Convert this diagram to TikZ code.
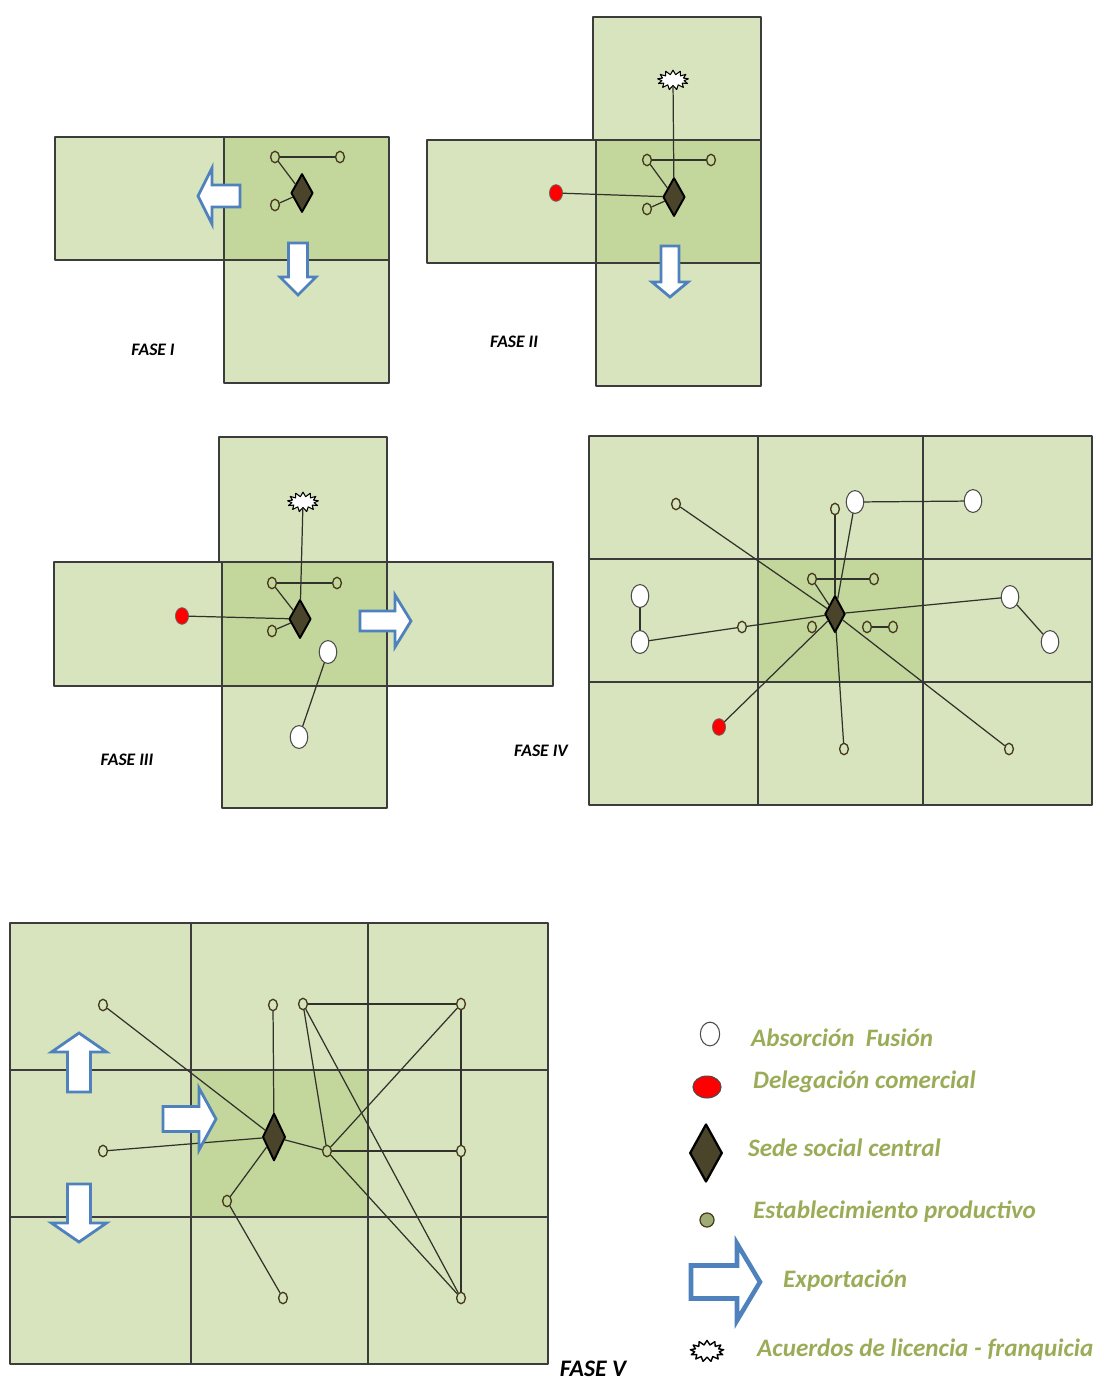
\documentclass[tikz,border=0pt]{standalone}
\usepackage{fontspec}
\setmainfont{Carlito}
\usetikzlibrary{shapes.geometric,shapes.symbols,calc}

\definecolor{zonelight}{RGB}{215,228,189}
\definecolor{zonedark}{RGB}{195,214,155}
\definecolor{gridgray}{RGB}{60,60,60}
\definecolor{linkgray}{RGB}{50,50,45}
\definecolor{prodbrown}{RGB}{70,58,30}
\definecolor{hqfill}{RGB}{74,69,42}
\definecolor{arrowblue}{RGB}{79,129,189}
\definecolor{legendgreen}{RGB}{155,172,88}
\definecolor{prodfill}{RGB}{160,172,118}

\begin{document}
\begin{tikzpicture}[x=0.02cm, y=-0.02cm, line cap=round, line join=round,
  zone/.style={draw=gridgray, line width=0.8pt, fill=zonelight},
  core/.style={zone, fill=zonedark},
  link/.style={draw=linkgray, line width=0.7pt},
  prod/.style={ellipse, draw=prodbrown, line width=0.75pt, minimum width=5pt, minimum height=6.5pt, inner sep=0pt},
  absor/.style={ellipse, draw=black!70, fill=white, line width=0.6pt, minimum width=10pt, minimum height=13pt, inner sep=0pt},
  deleg/.style={ellipse, draw=black!60, fill=red, line width=0.4pt, minimum width=7.5pt, minimum height=9.5pt, inner sep=0pt},
  hq/.style={diamond, draw=black, fill=hqfill, line width=1.1pt, minimum width=12.5pt, minimum height=22pt, inner sep=0pt},
  lic/.style={starburst, starburst points=13, starburst point height=2.5pt, random starburst=0,
    draw=black, fill=white, line width=0.6pt, inner xsep=4.5pt, inner ysep=2.2pt},
  export/.style={draw=arrowblue, fill=white, line width=1.6pt, line join=miter},
  phase/.style={font=\bfseries\itshape\fontsize{10}{12}\selectfont},
  legtext/.style={anchor=west, text=legendgreen, font=\bfseries\itshape\fontsize{14.3}{16}\selectfont},
  pics/exparrow/.style args={#1/#2/#3/#4}{code={
    \path[export] (0,-#2) -- ({#1-#4},-#2) -- ({#1-#4},-#3) -- (#1,0)
      -- ({#1-#4},#3) -- ({#1-#4},#2) -- (0,#2) -- cycle;}}
]
\useasboundingbox (0,0) rectangle (1104,1380);

% FASE I
\draw[zone] (55,137) rectangle (224,260);
\draw[core] (224,137) rectangle (389,260);
\draw[zone] (224,260) rectangle (389,383);
\node[hq] (hq1) at (302,193) {};
\node[prod] (a1) at (275,157) {};
\node[prod] (b1) at (340,157) {};
\node[prod] (c1) at (275,205) {};
\draw[link] (a1) -- (b1);
\draw[link] (a1) -- (hq1);
\draw[link] (c1) -- (hq1);
\pic[rotate=180] at (240,196) {exparrow={42/11/28/14}};
\pic[rotate=-90] at (298,243) {exparrow={52/9.5/18/18}};
\node[phase] (f1) at (153,350) {FASE I};

% FASE II
\draw[zone] (593,17) rectangle (761,140);
\draw[zone] (427,140) rectangle (596,263);
\draw[core] (596,140) rectangle (761,263);
\draw[zone] (596,263) rectangle (761,386);
\node[hq] (hq2) at (674,197) {};
\node[lic] (lic2) at (673,80) {};
\node[prod] (a2) at (647,160) {};
\node[prod] (b2) at (711,160) {};
\node[prod] (c2) at (647,209) {};
\node[deleg] (red2) at (556,193) {};
\draw[link] (lic2) -- (hq2);
\draw[link] (a2) -- (b2);
\draw[link] (a2) -- (hq2);
\draw[link] (c2) -- (hq2);
\draw[link] (red2) -- (hq2);
\pic[rotate=-90] at (670,246) {exparrow={51/9/18/15}};
\node[phase] (f2) at (514,342) {FASE II};

% FASE III
\draw[zone] (219,437) rectangle (387,562);
\draw[zone] (54,562) rectangle (553,686);
\draw[core] (222,562) rectangle (387,686);
\draw[zone] (222,686) rectangle (387,808);
\node[hq] (hq3) at (300,619) {};
\node[lic] (lic3) at (303,502) {};
\node[prod] (a3) at (272,583) {};
\node[prod] (b3) at (337,583) {};
\node[prod] (c3) at (272,631) {};
\node[deleg] (red3) at (182,616) {};
\node[absor] (w3a) at (328,652) {};
\node[absor] (w3b) at (299,737) {};
\draw[link] (lic3) -- (hq3);
\draw[link] (a3) -- (b3);
\draw[link] (a3) -- (hq3);
\draw[link] (c3) -- (hq3);
\draw[link] (red3) -- (hq3);
\draw[link] (w3a) -- (w3b);
\pic at (360,621) {exparrow={51/10/26/16}};
\node[phase] (f3) at (127,760) {FASE III};

% FASE IV
\draw[zone] (589,436) rectangle (1092,805);
\fill[zonedark] (758,559) rectangle (923,682);
\draw[gridgray, line width=0.8pt] (758,436) -- (758,805) (923,436) -- (923,805)
  (589,559) -- (1092,559) (589,682) -- (1092,682);
\node[hq, minimum height=21pt, minimum width=11.5pt] (hq4) at (835,614) {};
\node[prod] (p4a) at (676,504) {};
\node[prod] (p4b) at (835,509) {};
\node[absor] (w4a) at (855,502) {};
\node[absor] (w4b) at (973,501) {};
\node[prod] (p4c) at (812,579) {};
\node[prod] (p4d) at (874,579) {};
\node[prod] (p4e) at (812,627) {};
\node[prod] (p4f) at (867,627) {};
\node[prod] (p4g) at (893,627) {};
\node[prod] (p4h) at (742,627) {};
\node[absor] (w4c) at (640,596) {};
\node[absor] (w4d) at (640,642) {};
\node[absor] (w4e) at (1010,597) {};
\node[absor] (w4f) at (1050,642) {};
\node[deleg] (red4) at (719,727) {};
\node[prod] (p4i) at (844,749) {};
\node[prod] (p4j) at (1009,749) {};
\draw[link] (p4a) -- (hq4);
\draw[link] (hq4) -- (p4j);
\draw[link] (p4b) -- (hq4);
\draw[link] (w4a) -- (hq4);
\draw[link] (w4a) -- (w4b);
\draw[link] (p4c) -- (p4d);
\draw[link] (p4c) -- (hq4);
\draw[link] (p4f) -- (p4g);
\draw[link] (p4h) -- (hq4);
\draw[link] (p4h) -- (w4d);
\draw[link] (w4c) -- (w4d);
\draw[link] (w4e) -- (hq4);
\draw[link] (w4e) -- (w4f);
\draw[link] (red4) -- (hq4);
\draw[link] (p4i) -- (hq4);
\node[phase] (f4) at (541,751) {FASE IV};

% FASE V
\draw[zone] (10,923) rectangle (548,1364);
\fill[zonedark] (191,1070) rectangle (368,1217);
\draw[gridgray, line width=0.8pt] (191,923) -- (191,1364) (368,923) -- (368,1364)
  (10,1070) -- (548,1070) (10,1217) -- (548,1217);
\node[hq, minimum height=27pt, minimum width=13pt] (hq5) at (274,1137) {};
\node[prod] (p5a) at (103,1005) {};
\node[prod] (p5b) at (273,1005) {};
\node[prod] (p5c) at (303,1004) {};
\node[prod] (p5d) at (461,1004) {};
\node[prod] (p5e) at (103,1151) {};
\node[prod] (p5f) at (327,1151) {};
\node[prod] (p5g) at (461,1151) {};
\node[prod] (p5h) at (227,1201) {};
\node[prod] (p5i) at (283,1298) {};
\node[prod] (p5j) at (461,1298) {};
\draw[link] (p5a) -- (hq5);
\draw[link] (p5b) -- (hq5);
\draw[link] (p5e) -- (hq5);
\draw[link] (hq5) -- (p5f);
\draw[link] (hq5) -- (p5h);
\draw[link] (p5h) -- (p5i);
\draw[link] (p5c) -- (p5d);
\draw[link] (p5c) -- (p5f);
\draw[link] (p5c) -- (p5j);
\draw[link] (p5d) -- (p5f);
\draw[link] (p5d) -- (p5g);
\draw[link] (p5g) -- (p5j);
\draw[link] (p5f) -- (p5g);
\draw[link] (p5f) -- (p5j);
\pic[rotate=90] at (79,1092) {exparrow={59/11.5/27.5/19}};
\pic at (163,1119) {exparrow={53/12.5/31/17}};
\pic[rotate=-90] at (79,1184) {exparrow={58/11.5/27.5/19}};
\node[phase, inner sep=1pt, font=\bfseries\itshape\fontsize{13.5}{16}\selectfont] (f5) at (593,1369) {FASE V};

% leyenda
\node[absor, minimum width=11pt, minimum height=13.5pt] (lg1) at (710,1034) {};
\node[legtext] (lt1) at (745,1038) {Absorción\ \ Fusión};
\node[deleg, minimum width=16pt, minimum height=12.5pt, draw=black!70, line width=0.6pt] (lg2) at (707,1087) {};
\node[legtext] (lt2) at (747,1082) {Delegación comercial};
\node[hq, minimum width=18.5pt, minimum height=33pt, line width=1.3pt] (lg3) at (706,1153) {};
\node[legtext] (lt3) at (742,1148) {Sede social central};
\node[circle, draw=prodbrown, fill=prodfill, line width=0.7pt, minimum size=8pt, inner sep=0pt] (lg4) at (707,1220) {};
\node[legtext] (lt4) at (747,1212) {Establecimiento productivo};
\pic[export/.append style={line width=2.6pt}] at (691,1282) {exparrow={69/16.5/38.5/23}};
\node[legtext] (lt5) at (777,1281) {Exportación};
\node[lic, inner xsep=5pt, inner ysep=2.5pt, line width=0.8pt] (lg6) at (707,1351) {};
\node[legtext] (lt6) at (751,1350) {Acuerdos de licencia - franquicia};
\end{tikzpicture}
\end{document}
